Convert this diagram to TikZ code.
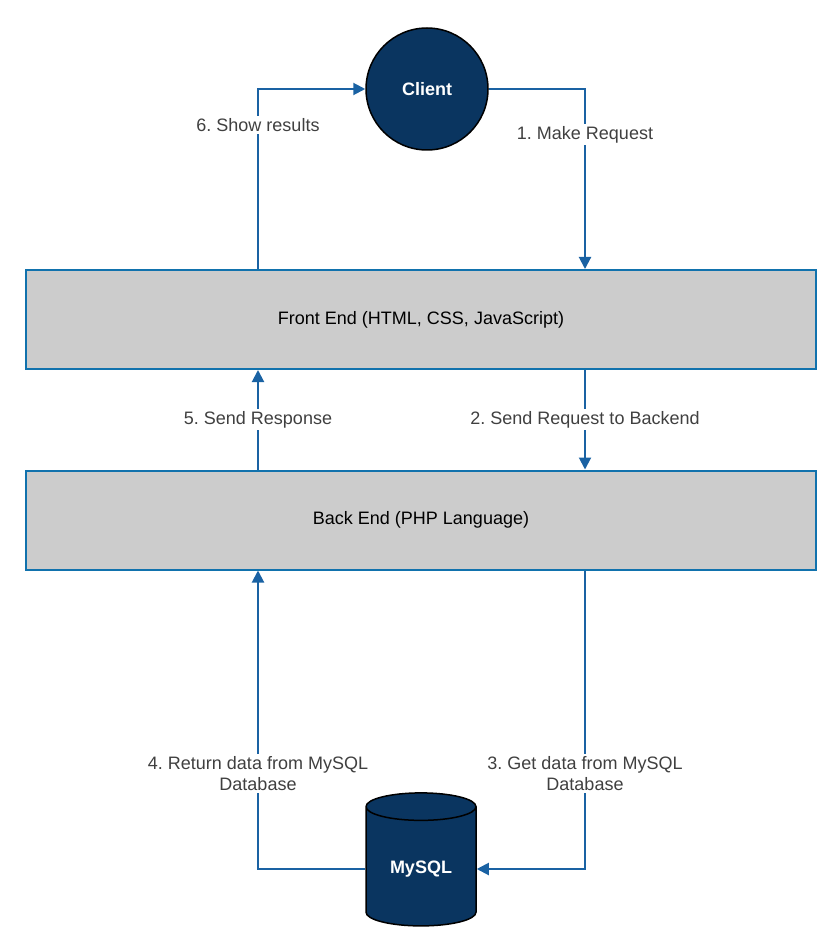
\documentclass[tikz,border=0pt]{standalone}
\usepackage{fontspec}
\setmainfont{Liberation Sans}
\usetikzlibrary{arrows.meta,shapes.geometric}

\definecolor{navy}{HTML}{0A3560}
\definecolor{linkblue}{HTML}{1A62A3}
\definecolor{boxblue}{HTML}{1172AD}
\definecolor{boxgray}{HTML}{CCCCCC}
\definecolor{lbltext}{HTML}{404040}

\tikzset{
  client/.style={circle, fill=navy, draw=black, line width=1.5pt, minimum size=122pt,
    text=white, font=\fontsize{18}{21}\selectfont\bfseries},
  layer/.style={rectangle, fill=boxgray, draw=boxblue, line width=2pt,
    minimum width=790pt, minimum height=99pt, font=\fontsize{18}{21}\selectfont},
  database/.style={cylinder, shape border rotate=90, aspect=0.4, fill=navy, draw=black,
    line width=1.5pt, minimum height=133pt, minimum width=110pt,
    text=white, font=\fontsize{18}{21}\selectfont\bfseries},
  link/.style={draw=linkblue, line width=2pt},
  lbl/.style={fill=white, text=lbltext, inner sep=2pt, align=center,
    font=\fontsize{18}{21.5}\selectfont}
}

\begin{document}
\frenchspacing
\begin{tikzpicture}[x=1pt, y=-1pt, >={Triangle[length=12pt,width=12pt]}]
    \useasboundingbox (0, 0) rectangle (834, 949);

    \coordinate (left) at (258, 0);
    \coordinate (right) at (585, 0);

    \node[client] (client) at (427, 89) {Client};
    \node[layer] (front) at (421, 319.5) {Front End (HTML, CSS, JavaScript)};
    \node[layer] (back) at (421, 520) {Back End (PHP Language)};
    \node[database] (mysql) at (421, 869) {MySQL};

    \begin{scope}[link, ->, linkblue]
      \draw (client.east) -| (front.north -| right)
        node[lbl, pos=0.627] {1. Make Request};
      \draw (front.south -| right) -- (back.north -| right)
        node[lbl, midway] {2. Send Request to Backend};
      \draw (back.south -| right) |- (mysql.east)
        node[lbl, pos=0.34] {3. Get data from MySQL\\Database};
      \draw (mysql.west) -| (back.south -| left)
        node[lbl, pos=0.66] {4. Return data from MySQL\\Database};
      \draw (back.north -| left) -- (front.south -| left)
        node[lbl, midway] {5. Send Response};
      \draw (front.north -| left) |- (client.west)
        node[lbl, pos=0.4] {6. Show results};
    \end{scope}
  \end{tikzpicture}
\end{document}
